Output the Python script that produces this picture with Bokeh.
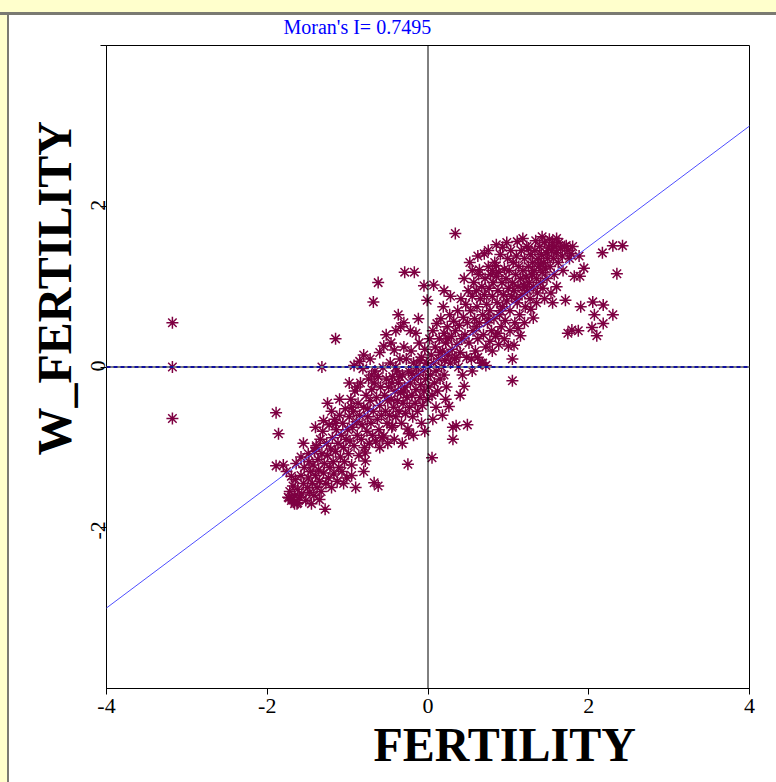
from math import pi
from bokeh.plotting import figure
from bokeh.models import Range1d, Span, Slope, FixedTicker, ColumnDataSource, Title, LinearAxis
from bokeh.embed import file_html
from bokeh.resources import INLINE

# ---------------- data ----------------
morans_i = 0.7495
x_title = "FERTILITY"
y_title = "W_FERTILITY"
x_ticks = [-4, -2, 0, 2, 4]
y_ticks = [-2, 0, 2, 4]
y_label_ticks = [-2, 0, 2]

outliers = [(-3.18, 0.55), (-3.18, 0.0), (-3.18, -0.64), (-1.89, -0.57), (-1.86, -0.83),
            (-1.89, -1.23), (-1.32, 0.0), (-1.15, 0.35), (-0.62, 1.05), (-0.68, 0.81),
            (-1.73, -1.63), (-1.62, -1.69), (-1.68, -1.65), (-1.66, -1.70)]

band_a = [(-1.80, -1.22), (-1.76, -1.30), (-1.74, -1.62), (-1.72, -1.55), (-1.70, -1.66), (-1.68, -1.48),
          (-1.66, -1.60), (-1.65, -1.40), (-1.63, -1.70), (-1.62, -1.52), (-1.60, -1.62), (-1.58, -1.35),
          (-1.57, -1.58), (-1.55, -1.45), (-1.54, -1.25), (-1.52, -1.66), (-1.50, -1.50), (-1.49, -1.38),
          (-1.48, -1.18), (-1.47, -1.56), (-1.46, -1.30), (-1.64, -1.20), (-1.70, -1.36), (-1.58, -1.12)]

band_b = [(-1.44, -1.45), (-1.43, -1.22), (-1.42, -1.60), (-1.41, -1.05), (-1.40, -1.35), (-1.39, -0.98),
          (-1.38, -1.50), (-1.37, -1.15), (-1.36, -1.28), (-1.35, -1.42), (-1.34, -0.90), (-1.33, -1.55),
          (-1.32, -1.08), (-1.31, -0.80), (-1.30, -1.32), (-1.29, -1.20), (-1.28, -1.77), (-1.27, -1.45),
          (-1.26, -0.95), (-1.25, -1.10), (-1.24, -1.38), (-1.23, -0.72), (-1.22, -1.25), (-1.21, -1.02),
          (-1.20, -1.50), (-1.19, -0.88), (-1.18, -1.18), (-1.17, -1.33), (-1.16, -0.65), (-1.15, -1.05),
          (-1.14, -0.78), (-1.13, -1.42), (-1.12, -0.95), (-1.11, -1.25), (-1.10, -0.60), (-1.09, -1.12),
          (-1.08, -0.85), (-1.07, -1.30), (-1.06, -0.70), (-1.05, -1.00), (-1.04, -1.18), (-1.03, -0.52),
          (-1.02, -0.90), (-1.01, -1.38), (-1.00, -0.78), (-1.30, -0.67), (-1.15, -0.70), (-1.39, -1.00),
          (-1.49, -1.08)]

band_c = [(-0.99, -1.08), (-0.98, -0.62), (-0.97, -0.92), (-0.96, -0.40), (-0.95, -1.22), (-0.94, -0.75),
          (-0.93, -0.55), (-0.92, -0.98), (-0.91, -0.30), (-0.90, -1.50), (-0.89, -0.68), (-0.88, -0.85),
          (-0.87, -0.45), (-0.86, -1.10), (-0.85, -0.60), (-0.85, 0.07), (-0.84, -0.20), (-0.83, -0.90),
          (-0.82, -0.72), (-0.81, -0.02), (-0.80, -0.50), (-0.79, -1.00), (-0.78, -1.17), (-0.78, -1.07),
          (-0.77, -0.35), (-0.76, -0.80), (-0.75, -0.62), (-0.74, -0.15), (-0.73, -0.95), (-0.72, -0.42),
          (-0.71, -0.70), (-0.70, -0.28), (-0.69, -0.85), (-0.68, -0.55), (-0.67, -1.44), (-0.67, -0.20),
          (-0.66, -0.05), (-0.65, -0.92), (-0.64, -0.38), (-0.63, -0.65), (-0.62, -1.48), (-0.62, -0.12),
          (-0.61, -0.78), (-0.60, -0.48), (-0.59, -0.25), (-0.58, -0.60), (-0.57, -0.88), (-0.56, -0.01),
          (-0.55, -0.86), (-0.55, 0.26), (-0.54, -0.35), (-0.53, -0.55), (-0.52, -0.15), (-0.51, -0.70),
          (-0.50, -0.42), (-0.95, -0.50), (-0.88, -0.25), (-0.75, -0.52), (-0.70, -0.10)]

band_d = [(-0.49, -0.25), (-0.48, -0.60), (-0.47, 0.05), (-0.46, -0.40), (-0.45, -0.75), (-0.44, -0.73),
          (-0.44, -0.12), (-0.43, -0.50), (-0.42, 0.21), (-0.41, -0.30), (-0.40, -0.62), (-0.39, -0.05),
          (-0.38, -0.42), (-0.37, 0.65), (-0.37, -0.20), (-0.36, -0.55), (-0.35, 0.10), (-0.34, 0.50),
          (-0.34, -0.32), (-0.33, -0.70), (-0.32, -0.10), (-0.31, -0.45), (-0.30, 0.25), (-0.29, 1.18),
          (-0.29, -0.25), (-0.28, -0.58), (-0.27, 0.10), (-0.26, -0.38), (-0.25, -0.77), (-0.25, -1.21),
          (-0.24, -0.83), (-0.24, -0.05), (-0.23, -0.50), (-0.22, -0.20), (-0.21, 0.20), (-0.20, -0.35),
          (-0.19, -0.62), (-0.18, 0.05), (-0.17, 1.18), (-0.17, -0.15), (-0.16, -0.45), (-0.15, 0.42),
          (-0.15, -0.28), (-0.14, 0.00), (-0.13, -0.55), (-0.12, -0.10), (-0.11, 0.30), (-0.10, -0.38),
          (-0.09, -0.22), (-0.08, 0.12), (-0.07, -0.48), (-0.06, -0.05), (-0.05, 1.01), (-0.05, -0.30),
          (-0.04, -0.80), (-0.04, 0.22), (-0.03, -0.15), (-0.02, 0.05), (-0.01, 0.83), (-0.01, -0.40),
          (-0.45, -0.20), (-0.40, 0.00), (-0.35, -0.12), (-0.30, -0.30), (-0.20, -0.08), (-0.10, 0.08)]

band_e = [(0.00, 0.00), (0.01, -0.25), (0.02, 0.35), (0.03, -0.10), (0.04, 0.15), (0.05, -1.13),
          (0.05, -0.35), (0.06, -0.65), (0.06, 0.45), (0.07, 1.02), (0.07, 0.05), (0.08, -0.20),
          (0.09, 0.25), (0.10, -0.05), (0.11, 0.54), (0.12, -0.30), (0.13, 0.10), (0.14, 0.35),
          (0.15, -0.15), (0.16, 0.60), (0.17, 0.00), (0.18, 0.20), (0.19, 0.75), (0.20, 0.42),
          (0.20, -0.10), (0.21, 0.08), (0.22, 0.30), (0.23, -0.25), (0.24, 0.50), (0.25, 0.15),
          (0.26, -0.49), (0.27, 0.65), (0.28, 0.05), (0.29, 0.38), (0.30, 0.22), (0.31, -0.90),
          (0.31, -0.75), (0.32, 0.57), (0.33, 0.10), (0.34, 1.66), (0.34, 0.45), (0.35, -0.73),
          (0.36, 0.28), (0.37, 0.70), (0.38, 0.00), (0.39, 0.52), (0.40, 0.18), (0.41, 0.85),
          (0.42, 0.35), (0.43, -0.10), (0.44, 0.62), (0.45, -0.24), (0.46, 0.40), (0.47, 0.78),
          (0.48, 0.12), (0.49, -0.72), (0.49, 0.55), (0.50, 0.95), (0.15, 0.18), (0.25, 0.35), (0.35, 0.12)]

band_f = [(0.51, 0.30), (0.52, 1.30), (0.53, 0.70), (0.54, 0.10), (0.55, 0.88), (0.56, 0.45),
          (0.57, 1.05), (0.58, 0.60), (0.59, 0.20), (0.60, 0.95), (0.61, 0.75), (0.62, 0.35),
          (0.63, 1.15), (0.64, 1.21), (0.64, 0.55), (0.65, 0.85), (0.66, 0.05), (0.67, 1.00),
          (0.68, 0.05), (0.68, 0.65), (0.69, 0.40), (0.70, 1.41), (0.70, 0.90), (0.71, 1.10),
          (0.72, 0.25), (0.73, 0.78), (0.74, 0.55), (0.75, 1.25), (0.76, 0.98), (0.77, 0.32),
          (0.77, 0.70), (0.78, 1.15), (0.79, 0.45), (0.80, 0.88), (0.81, 1.05), (0.82, 0.60),
          (0.83, 1.30), (0.84, 0.38), (0.85, 1.26), (0.85, 1.13), (0.86, 0.80), (0.87, 0.42),
          (0.87, 0.95), (0.88, 1.18), (0.89, 0.65), (0.90, 1.40), (0.91, 0.50), (0.92, 1.05),
          (0.93, 1.49), (0.93, 0.75), (0.94, 0.90), (0.95, 1.22), (0.96, 0.58), (0.97, 1.10),
          (0.98, 0.82), (0.99, 1.35), (1.00, 0.26), (1.00, 0.98), (0.60, 0.50), (0.75, 0.60),
          (0.90, 0.70), (0.80, 1.20)]

band_g = [(1.01, 1.20), (1.02, 0.70), (1.03, 1.45), (1.04, 0.88), (1.05, 1.05), (1.05, 0.10),
          (1.05, -0.17), (1.06, 1.30), (1.07, 0.27), (1.07, 0.95), (1.08, 0.55), (1.09, 1.15),
          (1.10, 1.38), (1.11, 1.56), (1.11, 0.80), (1.12, 1.00), (1.13, 1.25), (1.14, 0.65),
          (1.15, 1.10), (1.15, 0.39), (1.16, 1.45), (1.17, 0.90), (1.18, 1.20), (1.19, 1.02),
          (1.20, 1.35), (1.21, 0.75), (1.22, 1.12), (1.23, 1.50), (1.24, 0.95), (1.25, 1.48),
          (1.25, 1.25), (1.26, 1.05), (1.27, 0.85), (1.28, 1.40), (1.29, 1.15), (1.30, 1.30),
          (1.31, 0.61), (1.31, 1.00), (1.32, 1.20), (1.33, 1.45), (1.34, 1.57), (1.35, 1.10),
          (1.36, 0.92), (1.37, 1.35), (1.38, 1.25), (1.39, 1.50), (1.40, 1.05), (1.41, 1.40),
          (1.42, 1.18), (1.43, 0.98), (1.44, 1.30), (1.45, 1.55), (1.46, 1.22), (1.47, 1.42),
          (1.48, 1.10), (1.49, 1.35), (1.50, 1.48), (1.20, 1.00), (1.30, 1.15), (1.40, 1.28), (1.10, 0.85)]

band_h = [(1.51, 1.59), (1.52, 1.25), (1.53, 0.92), (1.54, 1.45), (1.55, 1.55), (1.56, 1.35),
          (1.57, 1.15), (1.58, 1.50), (1.60, 1.42), (1.62, 1.30), (1.63, 1.55), (1.65, 1.48),
          (1.67, 1.38), (1.68, 1.20), (1.70, 1.50), (1.71, 0.83), (1.72, 1.51), (1.74, 1.45),
          (1.74, 0.42), (1.76, 1.35), (1.78, 1.41), (1.79, 0.46), (1.80, 1.50), (1.82, 1.13),
          (1.87, 0.45), (1.88, 1.38), (1.89, 1.13), (1.90, 0.75), (1.94, 1.23), (2.04, 0.49),
          (2.05, 0.81), (2.07, 0.65), (2.10, 0.39), (2.17, 1.42), (2.18, 0.77), (2.18, 0.54),
          (2.30, 0.65), (2.30, 1.51), (2.35, 1.16), (2.42, 1.51)]

band_edges = [(-1.25, -0.45), (-1.10, -0.40), (-0.98, -0.20), (-0.92, 0.02), (-0.80, 0.15), (-0.72, 0.10),
              (-0.60, 0.18), (-0.52, 0.40), (-0.46, 0.30), (-0.40, 0.45), (-0.30, 0.55), (-0.22, 0.45),
              (-0.12, 0.60), (-0.60, -1.00), (-0.50, -0.95), (-0.42, -0.90), (-0.32, -0.95), (-0.18, -0.85),
              (-0.08, -0.70), (0.10, -0.50), (0.18, -0.60), (0.22, -0.40), (0.40, -0.35), (0.55, -0.05),
              (0.62, 0.12), (0.72, 0.02), (0.80, 0.20), (0.88, 0.28), (0.95, 0.35), (1.02, 0.45),
              (1.12, 0.48), (1.20, 0.55), (1.28, 0.72), (1.35, 0.80), (1.45, 0.85), (1.55, 0.80),
              (1.60, 1.00), (0.20, 0.95), (0.28, 0.88), (0.45, 1.10), (0.55, 1.20), (0.62, 1.38),
              (0.75, 1.45), (0.85, 1.52), (0.98, 1.55), (1.18, 1.60), (1.42, 1.62), (1.60, 1.60),
              (-1.55, -0.95), (-1.40, -0.75), (-1.20, -0.55), (-1.05, -1.45), (-0.95, -1.35),
              (-0.80, -1.30), (-1.45, -1.70), (-1.35, -1.65)]

points = (outliers + band_a + band_b + band_c + band_d + band_e + band_f + band_g + band_h
          + band_edges)
fertility = [pt[0] for pt in points]
w_fertility = [pt[1] for pt in points]

# ---------------- figure ----------------
SERIF = "Liberation Serif"
W, H = 776, 782
p = figure(width=W, height=H, output_backend="svg", toolbar_location=None,
           x_range=Range1d(-4, 4), y_range=Range1d(-4, 4),
           min_border_left=106, min_border_right=27, min_border_top=45, min_border_bottom=94)
# window-frame look behind a transparent border area
p.border_fill_alpha = 0
p.styles = {
    "background-color": "white",
    "background-image": ("linear-gradient(to bottom, #FFFFCC 0px, #FFFFCC 12px, #7A7A72 12px, "
                         "#7A7A72 15px, rgba(255,255,255,0) 15px), "
                         "linear-gradient(to right, #FFFFCC 0px, #FFFFCC 7px, #7A7A72 7px, "
                         "#7A7A72 9px, rgba(255,255,255,0) 9px)"),
}
p.background_fill_color = "white"
p.outline_line_color = "black"
p.outline_line_width = 1
p.xgrid.visible = False
p.ygrid.visible = False

# top title
p.title.text = f"Moran's I= {morans_i}"
p.title.align = "left"
p.title.offset = 177
p.title.standoff = 16
p.title.text_font = SERIF
p.title.text_font_size = "20px"
p.title.text_font_style = "normal"
p.title.text_color = "#0000FF"

# axes
xa = p.xaxis[0]
xa.ticker = FixedTicker(ticks=x_ticks)
xa.major_label_overrides = {t: str(t) for t in x_ticks}
xa.major_tick_out = 6
xa.major_tick_in = 0
xa.minor_tick_line_color = None
xa.major_label_standoff = 4
xa.major_label_text_font = SERIF
xa.major_label_text_font_size = "22px"
xa.major_label_text_color = "black"
xa.axis_line_color = "black"

# main y axis: line and ticks only
ya = p.yaxis[0]
ya.ticker = FixedTicker(ticks=y_ticks)
ya.major_label_overrides = {t: "" for t in y_ticks}
ya.major_label_text_font_size = "0px"
ya.major_label_standoff = 0
ya.major_tick_out = 6
ya.major_tick_in = 0
ya.minor_tick_line_color = None
ya.axis_line_color = "black"

# label-only y axis, nudged to centre the rotated labels on their ticks
nudge = 6.5 / 80.375
p.extra_y_ranges = {"ylab": Range1d(-4 - nudge, 4 - nudge)}
yl = LinearAxis(y_range_name="ylab", ticker=FixedTicker(ticks=y_label_ticks),
                major_label_overrides={t: str(t) for t in y_label_ticks},
                major_tick_out=0, major_tick_in=0, minor_tick_line_color=None,
                major_tick_line_color=None, axis_line_color=None,
                major_label_standoff=3, major_label_orientation=pi / 2,
                major_label_text_font=SERIF, major_label_text_font_size="22px",
                major_label_text_color="black")
p.add_layout(yl, "left")

# axis titles as side titles (placed along the axis with an offset)
p.add_layout(Title(text=x_title, align="left", offset=267, standoff=5, vertical_align="top",
                   text_font=SERIF, text_font_size="48px", text_font_style="bold",
                   text_color="black"), "below")
p.add_layout(Title(text=y_title, align="left", offset=233, standoff=0, vertical_align="bottom",
                   text_font=SERIF, text_font_size="48px", text_font_style="bold",
                   text_color="black"), "left")

# points
src = ColumnDataSource(dict(x=fertility, y=w_fertility))
p.scatter("x", "y", source=src, marker="asterisk", size=12,
          line_color="#7E0042", line_width=1.5)

# reference lines
p.add_layout(Span(location=0, dimension="height", line_color="black", line_width=1))
p.add_layout(Span(location=0, dimension="width", line_color="#808080", line_width=2))
p.add_layout(Span(location=0, dimension="width", line_color="#1010A0", line_width=2,
                  line_dash="4 3"))
p.add_layout(Slope(gradient=morans_i, y_intercept=0, line_color="#4F4FFF", line_width=1))

open("out.html", "w").write(file_html(p, INLINE))
